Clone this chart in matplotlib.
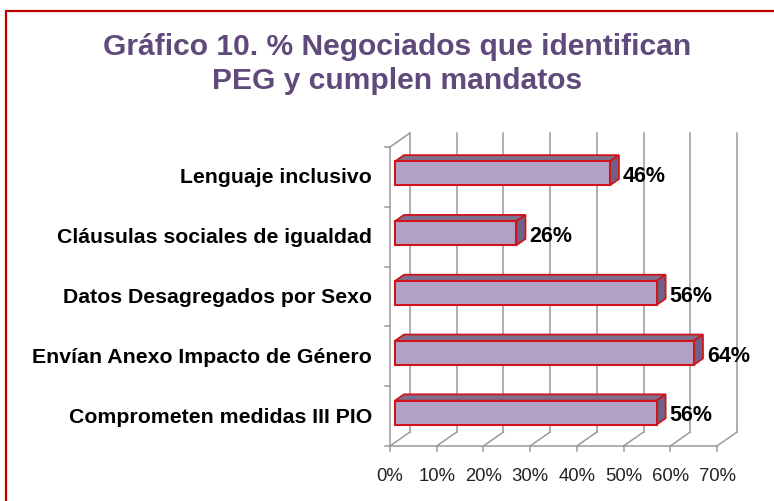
import matplotlib
matplotlib.use("Agg")
import matplotlib.pyplot as plt
from matplotlib.patches import Polygon, Rectangle

categories = ["Comprometen medidas III PIO", "Envían Anexo Impacto de Género",
              "Datos Desagregados por Sexo", "Cláusulas sociales de igualdad",
              "Lenguaje inclusivo"]
values = [56, 64, 56, 26, 46]
xticks = [0, 10, 20, 30, 40, 50, 60, 70]
xtick_labels = ["0%", "10%", "20%", "30%", "40%", "50%", "60%", "70%"]
title = "Gráfico 10. % Negociados que identifican\nPEG y cumplen mandatos"

W, H = 774, 502
fig = plt.figure(figsize=(W / 100, H / 100), dpi=100)
plt.rcParams['font.family'] = ['Liberation Sans', 'DejaVu Sans']

# axes: front plane 0..70 -> px 390..717, bands -0.5..4.5 -> px 447..148
x0, x1, ytop, ybot = 390, 717, 148, 447
ax = fig.add_axes([x0 / W, (H - ybot) / H, (x1 - x0) / W, (ybot - ytop) / H])
ax.set_xlim(0, 70)
ax.set_ylim(-0.5, 4.5)
ax.axis('off')

pxx = (x1 - x0) / 70.0
pxy = (ybot - ytop) / 5.0
DX = 20 / pxx   # depth offset in data units
DY = 14 / pxy

grid_c = "#9a9a9a"
lw = 1.1
# back wall gridlines and floor lines
for t, lab in zip(xticks, xtick_labels):
    ax.plot([t + DX, t + DX], [-0.5 + DY, 4.5 + DY], color=grid_c, lw=lw, clip_on=False, zorder=1)
    ax.plot([t, t + DX], [-0.5, -0.5 + DY], color=grid_c, lw=lw, clip_on=False, zorder=1)
    ax.plot([t, t], [-0.5, -0.5 - 5 / pxy], color=grid_c, lw=lw, clip_on=False, zorder=1)
    ax.text(t, -1.0, lab, ha='center', va='center', fontsize=13.3, color='#222222')
# front axes
ax.plot([0, 70], [-0.5, -0.5], color=grid_c, lw=lw, clip_on=False, zorder=1)
ax.plot([0, 0], [-0.5, 4.5], color=grid_c, lw=lw, clip_on=False, zorder=1)
ax.plot([0, DX], [4.5, 4.5 + DY], color=grid_c, lw=lw, clip_on=False, zorder=1)
for b in [-0.5, 0.5, 1.5, 2.5, 3.5, 4.5]:
    ax.plot([0, -5 / pxx], [b, b], color=grid_c, lw=lw, clip_on=False, zorder=1)

front_c = "#b3a2c7"
top_c = "#7d6f8e"
side_c = "#6e6286"
edge_c = "#d0141c"
f0, f1 = 0.25, 0.70  # bar depth range
h = 0.4
for i, (cat, v) in enumerate(zip(categories, values)):
    fx = f0 * DX
    fy = i + f0 * DY - h / 2
    bx = (f1 - f0) * DX
    by = (f1 - f0) * DY
    top = Polygon([(fx, fy + h), (fx + v, fy + h), (fx + v + bx, fy + h + by), (fx + bx, fy + h + by)],
                  closed=True, facecolor=top_c, edgecolor=edge_c, lw=1.3, clip_on=False, zorder=3)
    side = Polygon([(fx + v, fy), (fx + v + bx, fy + by), (fx + v + bx, fy + h + by), (fx + v, fy + h)],
                   closed=True, facecolor=side_c, edgecolor=edge_c, lw=1.3, clip_on=False, zorder=3)
    front = Rectangle((fx, fy), v, h, facecolor=front_c, edgecolor=edge_c, lw=1.5,
                      clip_on=False, zorder=4)
    ax.add_patch(top)
    ax.add_patch(side)
    ax.add_patch(front)
    ax.text(fx + v + bx + 4 / pxx, i + 0.02, f"{v}%", ha='left', va='center',
            fontsize=15.5, fontweight='bold', color='black', zorder=5)
    ax.text(-18 / pxx, i, cat, ha='right', va='center', fontsize=15.3,
            fontweight='bold', color='black')

fig.text(397 / W, 1 - 64 / H, title, ha='center', va='center', fontsize=21.6,
         fontweight='bold', color='#604a7b', linespacing=1.28)

border = Rectangle((6 / W, -0.1), 1.5, 1.1 - 12 / H, transform=fig.transFigure,
                   fill=False, edgecolor='#c00000', lw=1.6)
fig.patches.append(border)

fig.savefig("out.png", dpi=100)
